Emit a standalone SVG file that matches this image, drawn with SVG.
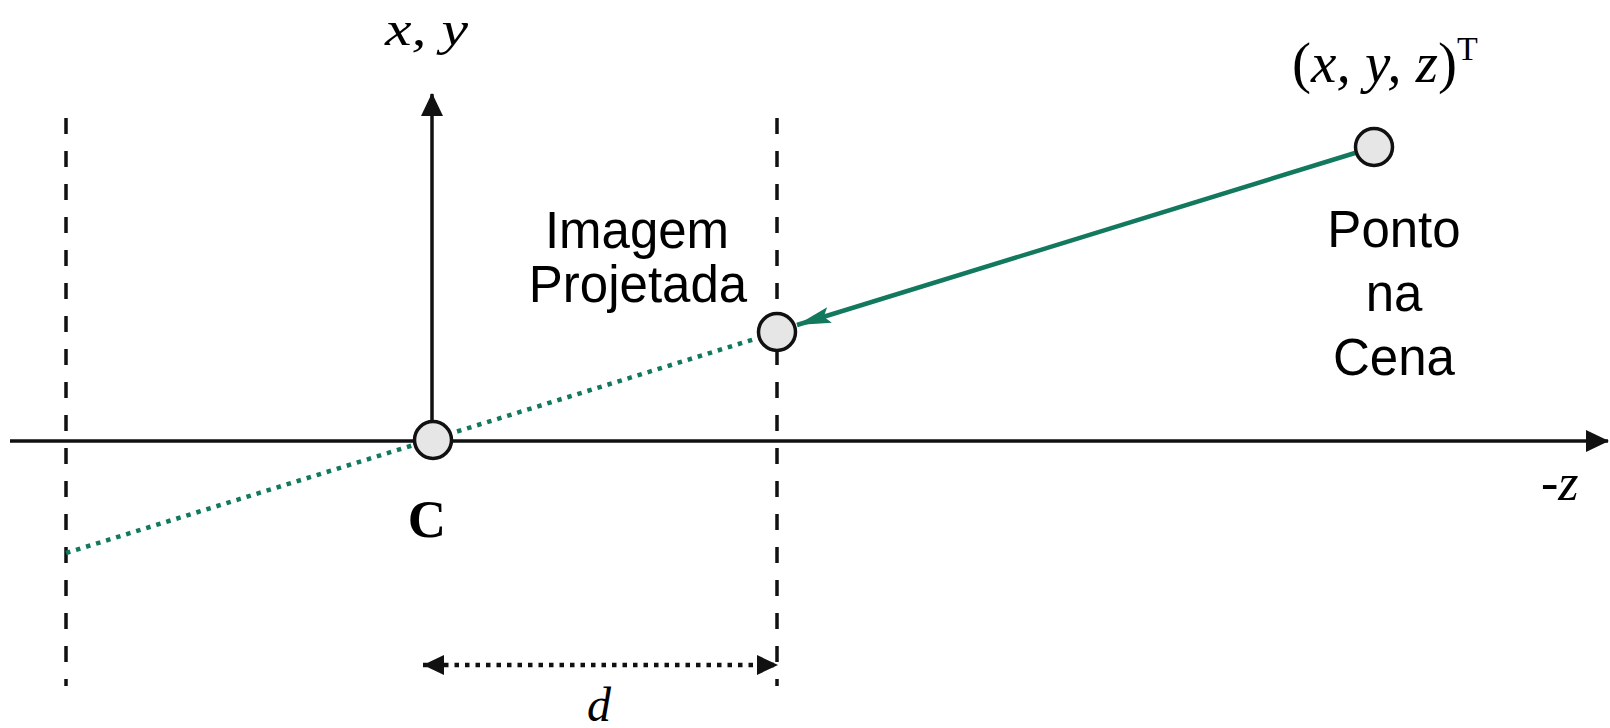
<svg xmlns="http://www.w3.org/2000/svg" width="1610" height="728" viewBox="0 0 1610 728">
<style>
.axis{stroke:#111;stroke-width:3.5;fill:none}
.dash{stroke:#111;stroke-width:3.5;stroke-dasharray:16 17;fill:none}
.dotg{stroke:#12785e;stroke-width:4.5;stroke-dasharray:4.5 6;fill:none}
.dotk{stroke:#111;stroke-width:4.5;stroke-dasharray:4.5 6;fill:none}
.green{stroke:#12785e;stroke-width:4.5;fill:none}
.pt{fill:#e6e6e6;stroke:#111;stroke-width:3.5}
.sans{font-family:"Liberation Sans",Arial,sans-serif;font-size:51px;fill:#000;text-anchor:middle}
.math{font-family:"Liberation Serif","Times New Roman",serif;font-style:italic;fill:#000}
</style>
<defs>
<marker id="ah" markerUnits="userSpaceOnUse" markerWidth="24" markerHeight="24" viewBox="0 0 24 24" refX="22" refY="12" orient="auto">
<path d="M0,1 L23,12 L0,23 Z" fill="#111"/>
</marker>
<marker id="ahd" markerUnits="userSpaceOnUse" markerWidth="22" markerHeight="22" viewBox="0 0 22 22" refX="21" refY="11" orient="auto-start-reverse">
<path d="M0,1 L21,11 L0,21 Z" fill="#111"/>
</marker>
<marker id="ahg" markerUnits="userSpaceOnUse" markerWidth="36" markerHeight="20" viewBox="0 0 36 20" refX="34" refY="10" orient="auto">
<path d="M0,2 L34,10 L0,18 L6,10 Z" fill="#12785e"/>
</marker>
</defs>
<g id="connectors">
<line class="dash" x1="66" y1="118" x2="66" y2="686"/>
<line class="dash" x1="777" y1="118" x2="777" y2="686"/>
<line class="axis" x1="10" y1="441" x2="1608" y2="441" marker-end="url(#ah)"/>
<line class="axis" x1="432" y1="421" x2="432" y2="94" marker-end="url(#ah)"/>
<line class="dotg" x1="66" y1="553" x2="758" y2="338"/>
<line class="green" x1="1355" y1="153" x2="797" y2="325" marker-end="url(#ahg)"/>
<line class="dotk" x1="423" y1="665" x2="778" y2="665" marker-start="url(#ahd)" marker-end="url(#ahd)"/>
</g>
<g id="camera-center">
<circle class="pt" cx="433" cy="440" r="18.5"/>
<text x="427" y="537" font-family="'Liberation Serif','Times New Roman',serif" font-weight="bold" font-size="53" text-anchor="middle">C</text>
</g>
<g id="image-point">
<circle class="pt" cx="777" cy="332" r="18.5"/>
<text class="sans" x="637" y="248">Imagem</text>
<text class="sans" x="638" y="302">Projetada</text>
</g>
<g id="scene-point">
<circle class="pt" cx="1374" cy="147" r="18.5"/>
<text class="sans" x="1394" y="247">Ponto</text>
<text class="sans" x="1394" y="311">na</text>
<text class="sans" x="1394" y="375">Cena</text>
<text class="math" x="1292" y="82" font-size="56" textLength="165" lengthAdjust="spacingAndGlyphs"><tspan font-style="normal">(</tspan>x, y, z<tspan font-style="normal">)</tspan></text>
<text x="1457" y="60" font-family="'Liberation Serif','Times New Roman',serif" font-size="34">T</text>
</g>
<g id="axis-labels">
<text class="math" x="385" y="45" font-size="48" textLength="83" lengthAdjust="spacingAndGlyphs">x, y</text>
<text class="math" x="1541" y="500" font-size="52"><tspan font-style="normal">-</tspan>z</text>
<text class="math" x="599" y="721" font-size="48" text-anchor="middle">d</text>
</g>
</svg>
